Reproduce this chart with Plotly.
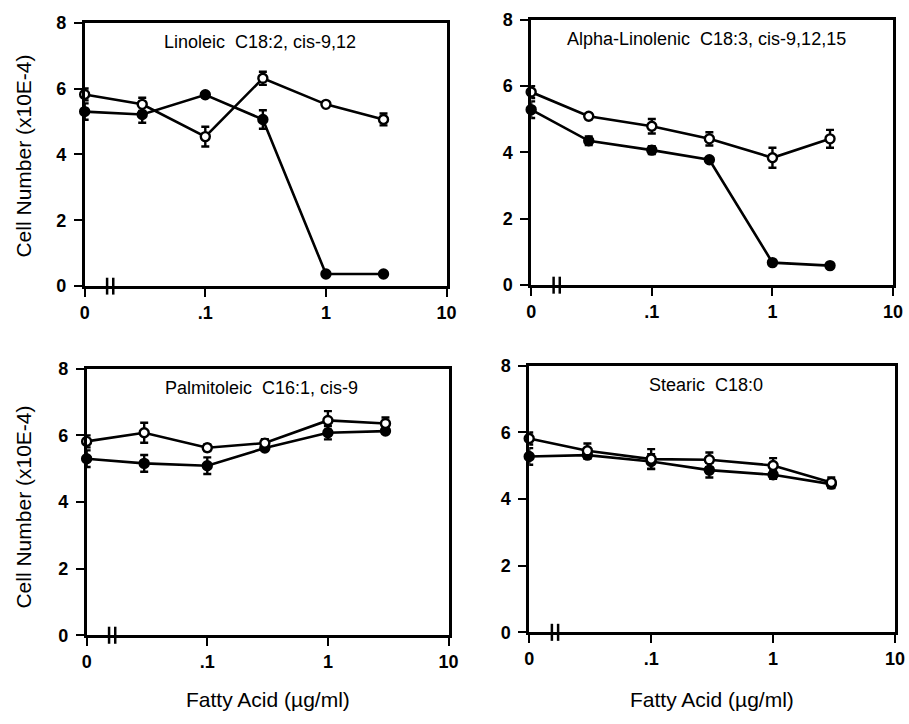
import plotly.graph_objects as go

# ---------------- data ----------------
doses = [0, 0.03, 0.1, 0.3, 1, 3]          # fatty acid, ug/ml
ZERO_POS = 0.01                              # where the "0" dose sits on the broken log axis

panel_titles = ["Linoleic  C18:2, cis-9,12",
                "Alpha-Linolenic  C18:3, cis-9,12,15",
                "Palmitoleic  C16:1, cis-9",
                "Stearic  C18:0"]

linoleic_open = [5.82, 5.52, 4.54, 6.31, 5.52, 5.06]
linoleic_open_err = [0.18, 0.2, 0.3, 0.2, 0.05, 0.18]
linoleic_filled = [5.30, 5.21, 5.81, 5.06, 0.37, 0.37]
linoleic_filled_err = [0.25, 0.25, 0.07, 0.28, 0.03, 0.05]

alpha_open = [5.82, 5.09, 4.79, 4.41, 3.84, 4.41]
alpha_open_err = [0.18, 0.08, 0.22, 0.2, 0.3, 0.27]
alpha_filled = [5.29, 4.35, 4.07, 3.78, 0.68, 0.59]
alpha_filled_err = [0.25, 0.13, 0.12, 0.06, 0.03, 0.03]

palm_open = [5.82, 6.08, 5.63, 5.77, 6.45, 6.36]
palm_open_err = [0.18, 0.3, 0.1, 0.12, 0.28, 0.18]
palm_filled = [5.30, 5.16, 5.09, 5.62, 6.08, 6.13]
palm_filled_err = [0.25, 0.25, 0.25, 0.07, 0.2, 0.07]

stearic_open = [5.82, 5.45, 5.2, 5.18, 5.01, 4.5]
stearic_open_err = [0.18, 0.22, 0.3, 0.22, 0.22, 0.15]
stearic_filled = [5.28, 5.32, 5.13, 4.87, 4.73, 4.45]
stearic_filled_err = [0.25, 0.1, 0.22, 0.22, 0.12, 0.12]

x_tickvals = [0.01, 0.1, 1, 10]
x_ticktext = ["0", ".1", "1", "10"]
y_tickvals = [0, 2, 4, 6, 8]
y_ticktext = ["0", "2", "4", "6", "8"]

y_title = "Cell Number (x10E-4)"
x_title = "Fatty Acid (\u00b5g/ml)"

# ---------------- layout helpers ----------------
W, H = 909, 724
FONT = "Liberation Sans, Arial, Helvetica, sans-serif"

def px_x(p):
    return p / W

def px_y(p):
    return 1 - p / H

# panel frames in pixels: (left, right, top, bottom)
frames = [(81, 449, 13, 284),
          (535, 903, 10, 283),
          (83, 451, 369, 643),
          (533, 905, 366, 640)]

series = [(linoleic_open, linoleic_open_err, linoleic_filled, linoleic_filled_err),
          (alpha_open, alpha_open_err, alpha_filled, alpha_filled_err),
          (palm_open, palm_open_err, palm_filled, palm_filled_err),
          (stearic_open, stearic_open_err, stearic_filled, stearic_filled_err)]

xpos = [ZERO_POS if d == 0 else d for d in doses]

fig = go.Figure()
layout = dict(width=W, height=H, margin=dict(l=0, r=0, t=0, b=0),
              paper_bgcolor="white", plot_bgcolor="white",
              showlegend=False, font=dict(family=FONT, color="black"))
shapes = []
annotations = []

for i, ((l, r, t, b), (o, oe, f, fe)) in enumerate(zip(frames, series)):
    n = "" if i == 0 else str(i + 1)
    xa, ya = "x" + n, "y" + n
    for yv, ye, fill in [(f, fe, "black"), (o, oe, "white")]:
        fig.add_trace(go.Scatter(
            x=xpos, y=yv, xaxis=xa, yaxis=ya, mode="lines+markers",
            line=dict(color="black", width=2.6),
            marker=dict(size=9, color=fill, line=dict(color="black", width=2.4)),
            error_y=dict(type="data", array=ye, visible=True,
                         color="black", thickness=2.4, width=4),
            cliponaxis=False))
    layout["xaxis" + n] = dict(
        type="log", range=[-2, 1], domain=[px_x(l), px_x(r)], anchor=ya,
        tickvals=x_tickvals, ticktext=x_ticktext,
        ticks="outside", ticklen=8, tickwidth=2, tickcolor="black",
        ticklabelstandoff=0,
        tickfont=dict(family=FONT, size=18, color="black", weight="bold"),
        showline=True, linewidth=2.5, linecolor="black", mirror=True,
        showgrid=False, zeroline=False)
    layout["yaxis" + n] = dict(
        range=[0, 8], domain=[px_y(b), px_y(t)], anchor=xa,
        tickvals=y_tickvals, ticktext=y_ticktext,
        ticks="outside", ticklen=8, tickwidth=2, tickcolor="black",
        ticklabelstandoff=4,
        tickfont=dict(family=FONT, size=18, color="black", weight="bold"),
        showline=True, linewidth=2.5, linecolor="black", mirror=True,
        showgrid=False, zeroline=False)
    # axis break marks "||"
    for bx in (0.062, 0.079):
        shapes.append(dict(type="line", xref=xa + " domain", yref=ya + " domain",
                           x0=bx, x1=bx, y0=-0.032, y1=0.032,
                           line=dict(color="black", width=2.5)))
    # panel title
    annotations.append(dict(text=panel_titles[i], xref="paper", yref="paper",
                            x=px_x((l + r) / 2 - 6), y=px_y(t + 20),
                            xanchor="center", yanchor="middle", showarrow=False,
                            font=dict(family=FONT, size=18, color="black")))

# y-axis titles (left column)
for yc in (150, 511):
    annotations.append(dict(text=y_title, xref="paper", yref="paper",
                            x=px_x(19), y=px_y(yc), textangle=-90,
                            xanchor="center", yanchor="middle", showarrow=False,
                            font=dict(family=FONT, size=21, color="black")))
# x-axis titles (bottom row)
for xc in (267, 719):
    annotations.append(dict(text=x_title, xref="paper", yref="paper",
                            x=px_x(xc), y=px_y(709),
                            xanchor="center", yanchor="middle", showarrow=False,
                            font=dict(family=FONT, size=21, color="black")))

layout["shapes"] = shapes
layout["annotations"] = annotations
fig.update_layout(**layout)
fig.write_html("out.html")
